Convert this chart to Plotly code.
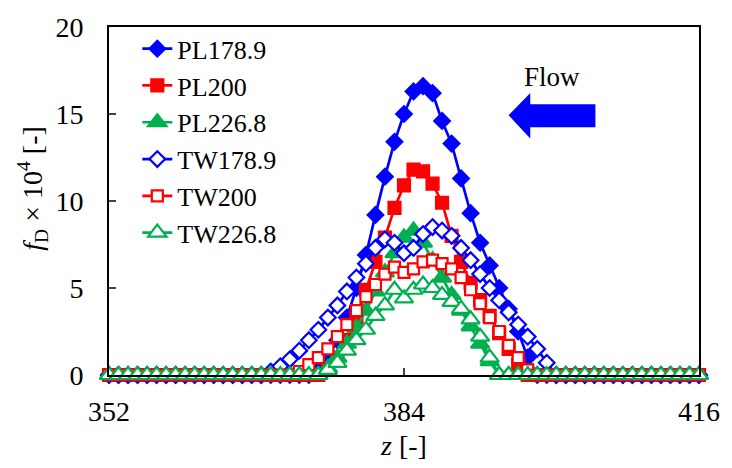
import numpy as np
import plotly.graph_objects as go

# grid of axial positions z [-]
z = list(np.round(np.linspace(352, 416, 63), 3))

pl_1789 = [0, 0, 0, 0, 0, 0, 0, 0, 0, 0,
           0, 0, 0, 0, 0, 0, 0, 0, 0, 0,
           0, 0, 0.3, 1.0, 2.0, 3.3, 5.0, 6.9, 9.2, 11.4,
           13.4, 15.0, 16.3, 16.6, 16.2, 14.6, 13.3, 11.3, 9.3, 7.6,
           6.3, 5.0, 3.8, 2.5, 1.0, 0, 0, 0, 0, 0,
           0, 0, 0, 0, 0, 0, 0, 0, 0, 0,
           0, 0, 0]
pl_200 = [0, 0, 0, 0, 0, 0, 0, 0, 0, 0,
          0, 0, 0, 0, 0, 0, 0, 0, 0, 0,
          0, 0, 0, 0.3, 1.0, 2.0, 3.3, 4.9, 6.5, 7.9,
          9.6, 10.9, 11.8, 11.7, 11.0, 9.9, 8.0, 6.5, 5.3, 4.3,
          3.4, 2.4, 1.5, 0.6, 0, 0, 0, 0, 0, 0,
          0, 0, 0, 0, 0, 0, 0, 0, 0, 0,
          0, 0, 0]
pl_2268 = [0, 0, 0, 0, 0, 0, 0, 0, 0, 0,
           0, 0, 0, 0, 0, 0, 0, 0, 0, 0,
           0, 0, 0, 0.4, 1.0, 1.8, 2.7, 3.7, 4.8, 5.9,
           7.0, 7.9, 8.3, 7.6, 6.6, 5.6, 4.6, 3.7, 2.8, 1.8,
           0.8, 0, 0, 0, 0, 0, 0, 0, 0, 0,
           0, 0, 0, 0, 0, 0, 0, 0, 0, 0,
           0, 0, 0]
tw_1789 = [0, 0, 0, 0, 0, 0, 0, 0, 0, 0,
           0, 0, 0, 0, 0, 0, 0, 0.2, 0.5, 0.9,
           1.4, 2.0, 2.6, 3.3, 4.0, 4.8, 5.6, 6.4, 7.3, 7.8,
           7.6, 7.0, 7.3, 8.1, 8.5, 8.3, 8.0, 7.3, 6.6, 5.8,
           5.0, 4.3, 3.6, 2.9, 2.2, 1.5, 0.7, 0, 0, 0,
           0, 0, 0, 0, 0, 0, 0, 0, 0, 0,
           0, 0, 0]
tw_200 = [0, 0, 0, 0, 0, 0, 0, 0, 0, 0,
          0, 0, 0, 0, 0, 0, 0, 0, 0, 0,
          0.2, 0.6, 1.0, 1.5, 2.2, 2.9, 3.7, 4.5, 5.2, 5.8,
          6.2, 5.9, 6.1, 6.5, 6.6, 6.4, 6.1, 5.6, 4.9, 4.1,
          3.3, 2.5, 1.7, 1.0, 0.3, 0, 0, 0, 0, 0,
          0, 0, 0, 0, 0, 0, 0, 0, 0, 0,
          0, 0, 0]
tw_2268 = [0, 0, 0, 0, 0, 0, 0, 0, 0, 0,
           0, 0, 0, 0, 0, 0, 0, 0, 0, 0,
           0, 0, 0, 0.3, 0.7, 1.4, 2.0, 2.6, 3.4, 4.0,
           4.9, 4.4, 4.9, 5.2, 5.0, 4.6, 4.2, 3.8, 3.2, 2.2,
           1.0, 0, 0, 0, 0, 0, 0, 0, 0, 0,
           0, 0, 0, 0, 0, 0, 0, 0, 0, 0,
           0, 0, 0]

series_names = ["PL178.9", "PL200", "PL226.8", "TW178.9", "TW200", "TW226.8"]
series_values = [pl_1789, pl_200, pl_2268, tw_1789, tw_200, tw_2268]
x_ticks = [352, 384, 416]
y_ticks = [0, 5, 10, 15, 20]

BLUE = "#0000FF"
RED = "#FF0000"
GREEN = "#00B050"
styles = [
    dict(color=BLUE, symbol="diamond", size=12, fill=True),
    dict(color=RED, symbol="square", size=12, fill=True),
    dict(color=GREEN, symbol="triangle-up", size=16, fill=True),
    dict(color=BLUE, symbol="diamond", size=12, fill=False),
    dict(color=RED, symbol="square", size=11, fill=False),
    dict(color=GREEN, symbol="triangle-up", size=16, fill=False),
]

FONT = "Liberation Serif"
fig = go.Figure()
for name, vals, st in zip(series_names, series_values, styles):
    fig.add_trace(go.Scatter(
        x=z, y=vals, name=name, mode="lines+markers",
        line=dict(color=st["color"], width=2.7),
        marker=dict(symbol=st["symbol"], size=st["size"],
                    color=st["color"] if st["fill"] else "white",
                    line=dict(color=st["color"], width=2.2)),
        cliponaxis=False,
    ))

L, R, T, B = 109, 25, 24, 91
W, H = 732, 468
pw, ph = W - L - R, H - T - B


def px2paper(px, py):
    return (px - L) / pw, (H - B - py) / ph


# block arrow indicating flow direction
pts = [(514, 113.5), (536, 91), (536, 102.3), (602, 102.3),
       (602, 125.7), (536, 125.7), (536, 137)]
path = "M " + " L ".join("%.4f,%.4f" % px2paper(*p) for p in pts) + " Z"
fig.add_shape(type="path", path=path, xref="paper", yref="paper",
              fillcolor=BLUE, line=dict(color=BLUE, width=0))
fx, fy = px2paper(558, 75)
fig.add_annotation(x=fx, y=fy, xref="paper", yref="paper", text="Flow",
                   showarrow=False, yanchor="middle", xanchor="center",
                   font=dict(family=FONT, size=27, color="black"))

# y-axis title (placed as rotated text to match reference position)
tx, ty = px2paper(32, 188)
fig.add_annotation(x=tx, y=ty, xref="paper", yref="paper",
                   text="<i>f</i><sub>D</sub> × 10<sup>4</sup> [-]",
                   textangle=-90, showarrow=False,
                   xanchor="center", yanchor="middle",
                   font=dict(family=FONT, size=28, color="black"))

fig.update_layout(
    width=W, height=H,
    margin=dict(l=L, r=R, t=T, b=B),
    paper_bgcolor="white", plot_bgcolor="white",
    font=dict(family=FONT, size=27, color="black"),
    showlegend=True,
    legend=dict(x=0.048, y=1.005, xanchor="left", yanchor="top",
                bgcolor="rgba(0,0,0,0)", font=dict(family=FONT, size=26),
                itemwidth=30),
    xaxis=dict(range=[352, 416], tickvals=x_ticks, ticks="inside", ticklen=7,
               tickwidth=1.5, showline=True, linecolor="black", linewidth=2,
               mirror=True, showgrid=False, zeroline=False,
               tickfont=dict(family=FONT, size=28), ticklabelstandoff=10,
               title=dict(text="<i>z</i> [-]", font=dict(family=FONT, size=28),
                          standoff=10)),
    yaxis=dict(range=[0, 20], tickvals=y_ticks, ticks="inside", ticklen=7,
               tickwidth=1.5, showline=True, linecolor="black", linewidth=2,
               mirror=True, showgrid=False, zeroline=False,
               tickfont=dict(family=FONT, size=28), ticklabelstandoff=18),
)

fig.write_html("out.html")
